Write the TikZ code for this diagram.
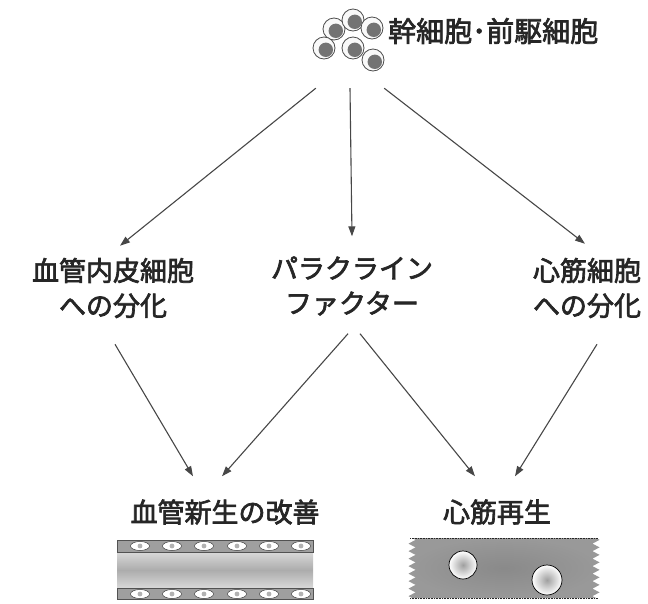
\documentclass[tikz,border=0pt]{standalone}
\usepackage{fontspec}
\setmainfont{Noto Sans CJK JP}[FakeBold=2.5]
\usetikzlibrary{arrows.meta,calc,decorations.pathmorphing}
\definecolor{ink}{gray}{0.15}

\begin{document}
\begin{tikzpicture}[x=1pt,y=-1pt,
  arr/.style={draw=ink!85, line width=1.1pt, -{Triangle[length=10pt,width=7pt]}},
  lbl/.style={text=ink, font=\fontsize{27}{35}\selectfont, align=center, inner sep=0pt}]
\useasboundingbox (0,0) rectangle (648,603);

% stem / progenitor cells
\foreach \cx/\cy in {334/29,353/20,372/28,324/48,353/48,373/60} {
  \draw[gray!60!black, fill=gray!5, line width=0.8pt] (\cx,\cy) circle (11pt);
  \fill[gray!90!black] (\cx+1.8,\cy+1.8) circle (7.2pt);
}
\node[minimum width=68pt, minimum height=76pt, inner sep=0pt] (cells) at (350,50) {};
\node[lbl, anchor=west, font=\fontsize{28}{35}\selectfont] (stem) at (388,31) {幹細胞･前駆細胞};

% middle row
\node[lbl] (endo) at (113,288) {血管内皮細胞\\への分化};
\node[lbl] (para) at (352,286) {パラクライン\\ファクター};
\node[lbl] (cardio) at (587,288) {心筋細胞\\への分化};

% bottom row
\node[lbl] (angio) at (225,512) {血管新生の改善};
\node[lbl] (regen) at (497,512) {心筋再生};

\draw[arr] (cells.south west) -- ($(endo.north)+(7,-12)$);
\draw[arr] (cells.south) -- ($(para.north)+(0,-20)$);
\draw[arr] (cells.south east) -- ($(cardio.north)+(-2,-14)$);
\draw[arr] ($(endo.south)+(2,26)$) -- ($(angio.north)+(-32,-23)$);
\draw[arr] ($(para.south)+(-4,18)$) -- ($(angio.north)+(-3,-23)$);
\draw[arr] ($(para.south)+(8,18)$) -- ($(regen.north)+(-22,-23)$);
\draw[arr] ($(cardio.south)+(10,26)$) -- ($(regen.north)+(18,-23)$);

% blood vessel
\shade[top color=gray!30, bottom color=gray!30, middle color=gray!65] (117,552) rectangle (313,588);
\draw[ink!80, fill=gray!75] (117,540) rectangle (313,552);
\draw[ink!80, fill=gray!75] (117,588) rectangle (313,599);
\foreach \ex in {140,172,204,237,269,301} {
  \foreach \ey in {546,594} {
    \draw[gray!50!black, fill=white, line width=0.5pt] (\ex,\ey) ellipse (9.5pt and 4.5pt);
    \fill[gray!60] (\ex,\ey) circle (2.4pt);
  }
}

% cardiac muscle
\shade[inner color=gray!92, outer color=gray!80,
  decoration={zigzag, segment length=7.5pt, amplitude=3.5pt}]
  (412,538) -- (596,538) decorate { -- (596,598) } -- (412,598) decorate { -- (412,538) } -- cycle;
\draw[ink, densely dotted, line width=0.6pt] (410,538) -- (598,538);
\draw[ink, densely dotted, line width=0.6pt] (410,598) -- (598,598);
\shadedraw[inner color=gray!75, outer color=white, draw=black, line width=0.7pt] (463,565) circle (14pt);
\shadedraw[inner color=gray!75, outer color=white, draw=black, line width=0.7pt] (547,580) circle (15pt);
\end{tikzpicture}
\end{document}
